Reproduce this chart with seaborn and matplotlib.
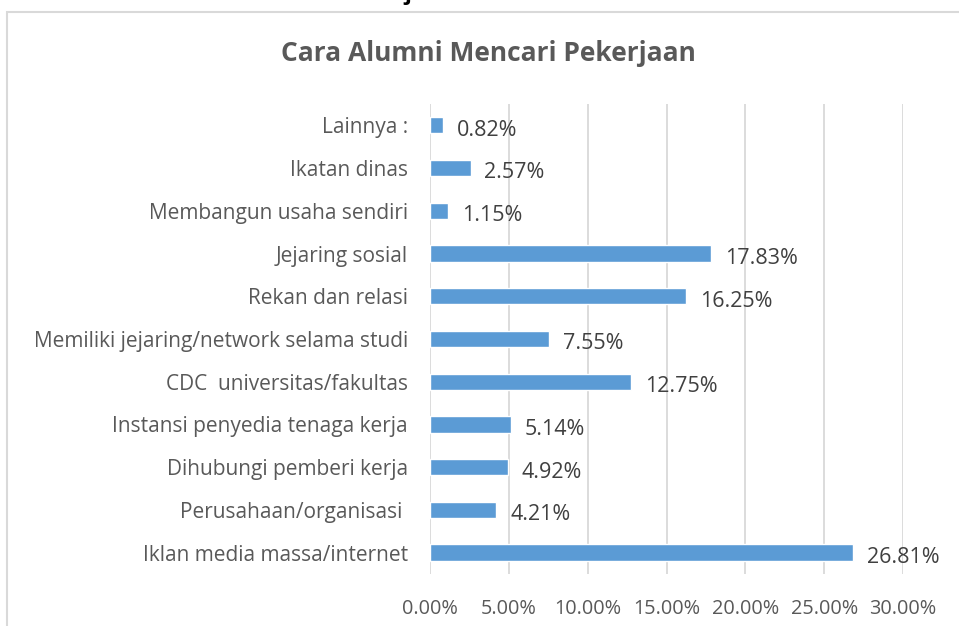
import matplotlib.pyplot as plt
import matplotlib.patches as mpatches
import seaborn as sns
import pandas as pd
from matplotlib.ticker import FuncFormatter

# data (top to bottom)
categories = [
    "Lainnya :",
    "Ikatan dinas",
    "Membangun usaha sendiri",
    "Jejaring sosial",
    "Rekan dan relasi",
    "Memiliki jejaring/network selama studi",
    "CDC  universitas/fakultas",
    "Instansi penyedia tenaga kerja",
    "Dihubungi pemberi kerja",
    "Perusahaan/organisasi ",
    "Iklan media massa/internet",
]
percent = [0.82, 2.57, 1.15, 17.83, 16.25, 7.55, 12.75, 5.14, 4.92, 4.21, 26.81]
x_ticks = [0, 5, 10, 15, 20, 25, 30]

df = pd.DataFrame({"Cara": categories, "Persen": percent})

sns.set_style("white")
plt.rcParams["font.family"] = ["Open Sans", "DejaVu Sans"]

text_col = "#595959"
fig = plt.figure(figsize=(9.59, 6.26), dpi=100)
ax = fig.add_axes([0.4484, 0.0831, 0.4932, 0.7508])

sns.barplot(data=df, x="Persen", y="Cara", orient="h", color="#5b9bd5",
            saturation=1, width=0.38, ax=ax, zorder=3)

ax.set_xlim(0, 30)
ax.set_xticks(x_ticks)
ax.xaxis.set_major_formatter(FuncFormatter(lambda v, p: f"{v:.2f}%"))
ax.grid(axis="x", color="#d9d9d9", linewidth=1.3, zorder=0)
ax.set_axisbelow(True)
for s in ax.spines.values():
    s.set_visible(False)
ax.set_xlabel("")
ax.set_ylabel("")
ax.tick_params(axis="x", length=0, pad=18, labelsize=14.3, labelcolor=text_col)
ax.tick_params(axis="y", length=0, pad=16, labelsize=15, labelcolor=text_col)

# data labels
for i, v in enumerate(percent):
    ax.annotate(f"{v:.2f}%", xy=(v, i), xytext=(10, -3.5), textcoords="offset points",
                va="center", ha="left", fontsize=15.5, color="#404040")

fig.text(0.509, 0.915, "Cara Alumni Mencari Pekerjaan", ha="center", va="center",
         fontsize=19, fontweight="bold", color=text_col)

# chart frame
frame = mpatches.Rectangle((7 / 959, -0.1), 1.2, 1 - 12 / 626 + 0.1,
                           transform=fig.transFigure, fill=False,
                           edgecolor="#d9d9d9", linewidth=1.5)
fig.patches.append(frame)

# clipped glyph at top edge of the screenshot
fig.text(408 / 959, 1.008, "j", ha="center", va="center", fontsize=16,
         fontweight="bold", color="black")

fig.savefig("out.png", dpi=100)
